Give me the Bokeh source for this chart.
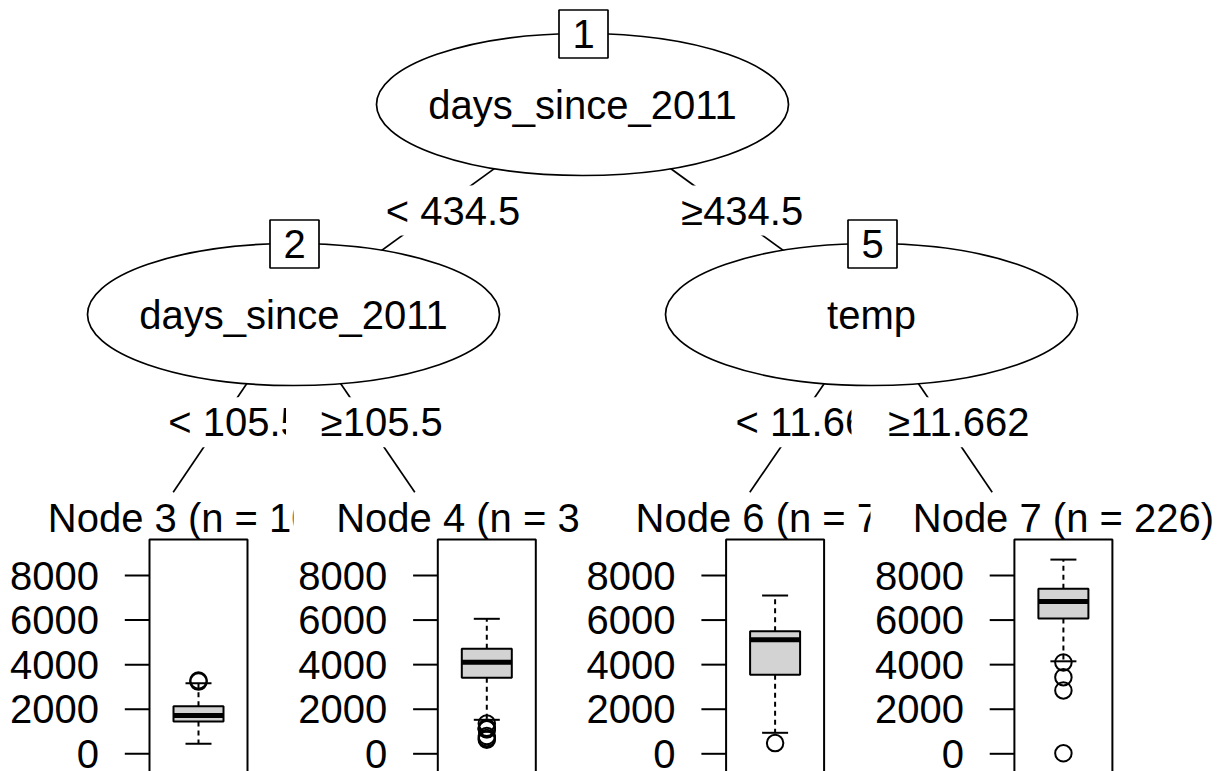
from bokeh.plotting import figure
from bokeh.models import Range1d
from bokeh.core.properties import value
from bokeh.embed import file_html
from bokeh.resources import INLINE

# ---------------- data ----------------
inner_ids = ["1", "2", "5"]
inner_vars = ["days_since_2011", "days_since_2011", "temp"]
edge_labels = ["< 434.5", "\u2265434.5", "< 105.5", "\u2265105.5", "< 11.662", "\u226511.662"]
terminal_ids = [3, 4, 6, 7]
terminal_n = [106, 329, 70, 226]

# boxplot statistics of bike counts in each terminal node
whisk_low = [449, 1525, 942, 4150]
q1 = [1449, 3410, 3544, 6070]
median = [1718, 4110, 5114, 6833]
q3 = [2135, 4711, 5500, 7402]
whisk_high = [3167, 6057, 7102, 8714]
outliers = [[3240, 3290],
            [1360, 1167, 1115, 1096, 795, 705, 627],
            [480],
            [4100, 3437, 2843, 22]]
y_ticks = [0, 2000, 4000, 6000, 8000]
y_tick_labels = ["0", "2000", "4000", "6000", "8000"]

# ---------------- layout (page pixels) ----------------
FONT = value("Liberation Sans")
FS = "40px"
W, H = 1217, 771
node_x = [582, 293, 871]
node_y = [104, 314, 314]
ell_w, ell_h = 412, 142
term_end_x = [172.7, 414.3, 749.3, 991.7]
term_end_y = 491.7
edge_from = [0, 0, 1, 1, 2, 2]
edge_to = [(node_x[1], node_y[1]), (node_x[2], node_y[2]),
           (term_end_x[0], term_end_y), (term_end_x[1], term_end_y),
           (term_end_x[2], term_end_y), (term_end_x[3], term_end_y)]
lab_x = [452.5, 741.7, 235.0, 381.3, 812.0, 958.4]
lab_y = [210, 210, 421.7, 421.7, 421.7, 421.7]
lab_w = [140, 135, 140, 130, 160, 155]
lab_clip = [None, None, 285.5, None, 851.0, None]

panel_c = [198 + 288.3 * i for i in range(4)]
panel_w = 98
panel_top = 539
node_lab_y = 517.5
node_lab_clip = [293.0, 580.0, 870.0, None]

# count scale: 0 -> 753.3 px, 8000 -> 575 px
px0, px8000 = 753.3, 575.0
k = (px0 - px8000) / 8000.0
frame_top, frame_bottom = 0, H

p = figure(width=W, height=H, output_backend="svg", toolbar_location=None,
           x_range=Range1d(0, W), y_range=Range1d(frame_bottom, frame_top),
           x_axis_type=None, y_axis_type=None, min_border=0)
p.outline_line_color = None
p.background_fill_color = "white"
p.border_fill_color = "white"
p.extra_y_ranges = {"cnt": Range1d(start=(px0 - frame_bottom) / k, end=(px0 - frame_top) / k)}

# edges (parent center -> child)
p.segment(x0=[node_x[i] for i in edge_from], y0=[node_y[i] for i in edge_from],
          x1=[e[0] for e in edge_to], y1=[e[1] for e in edge_to],
          line_color="black", line_width=1.7)
# white backgrounds of edge labels
p.rect(x=lab_x, y=lab_y, width=lab_w, height=50, fill_color="white", line_color=None)

# inner nodes
p.ellipse(x=node_x, y=node_y, width=ell_w, height=ell_h, fill_color="white",
          line_color="black", line_width=1.7)
p.text(x=node_x, y=node_y, text=inner_vars, text_font=FONT, text_font_size=FS,
       text_align="center", text_baseline="middle", text_color="black")
id_y = [y - ell_h / 2 + 0.5 for y in node_y]
p.rect(x=[x + 1 for x in node_x], y=id_y, width=49, height=48, fill_color="white",
       line_color="black", line_width=1.7)
p.text(x=[x + 1 for x in node_x], y=id_y, text=inner_ids, text_font=FONT, text_font_size=FS,
       text_align="center", text_baseline="middle", text_color="black")

# edge labels (clipped like the original viewports)
for i in range(len(edge_labels)):
    p.text(x=[lab_x[i]], y=[lab_y[i]], text=[edge_labels[i]], text_font=FONT, text_font_size=FS,
           text_align="center", text_baseline="middle", text_color="black")
    if lab_clip[i] is not None:
        p.quad(left=[lab_clip[i]], right=[lab_clip[i] + 50], top=[lab_y[i] - 26],
               bottom=[lab_y[i] + 26], fill_color="white", line_color=None)

# terminal node labels
for i in range(4):
    p.text(x=[panel_c[i]], y=[node_lab_y], text=["Node %d (n = %d)" % (terminal_ids[i], terminal_n[i])],
           text_font=FONT, text_font_size=FS, text_align="center", text_baseline="middle",
           text_color="black")
    if node_lab_clip[i] is not None:
        p.quad(left=[node_lab_clip[i]], right=[node_lab_clip[i] + 75], top=[494],
               bottom=[546], fill_color="white", line_color=None)

# panels
pl = [c - panel_w / 2 for c in panel_c]
p.quad(left=pl, right=[x + panel_w for x in pl], top=[panel_top] * 4, bottom=[H + 20] * 4,
       fill_color=None, line_color="black", line_width=2)

# y axes of each panel
tx0, tx1, ty, lx, ly, lt = [], [], [], [], [], []
for i in range(4):
    for t, s in zip(y_ticks, y_tick_labels):
        tx0.append(pl[i] - 24.7)
        tx1.append(pl[i])
        ty.append(t)
        lx.append(pl[i] - 50.5)
        ly.append(t)
        lt.append(s)
p.segment(x0=tx0, y0=ty, x1=tx1, y1=ty, line_color="black", line_width=2, y_range_name="cnt")
p.text(x=lx, y=ly, text=lt, text_font=FONT, text_font_size=FS, text_align="right",
       text_baseline="middle", text_color="black", y_range_name="cnt")

# boxplots
p.segment(x0=panel_c, y0=q3, x1=panel_c, y1=whisk_high, line_color="black", line_width=2,
          line_dash="5 4", y_range_name="cnt")
p.segment(x0=panel_c, y0=q1, x1=panel_c, y1=whisk_low, line_color="black", line_width=2,
          line_dash="5 4", y_range_name="cnt")
p.segment(x0=[c - 13 for c in panel_c], y0=whisk_high, x1=[c + 13 for c in panel_c], y1=whisk_high,
          line_color="black", line_width=2, y_range_name="cnt")
p.segment(x0=[c - 13 for c in panel_c], y0=whisk_low, x1=[c + 13 for c in panel_c], y1=whisk_low,
          line_color="black", line_width=2, y_range_name="cnt")
p.quad(left=[c - 25 for c in panel_c], right=[c + 25 for c in panel_c], bottom=q1, top=q3,
       fill_color="#d3d3d3", line_color="black", line_width=2, y_range_name="cnt")
p.segment(x0=[c - 25 for c in panel_c], y0=median, x1=[c + 25 for c in panel_c], y1=median,
          line_color="black", line_width=5, y_range_name="cnt")
ox, oy = [], []
for i, vals in enumerate(outliers):
    for v in vals:
        ox.append(panel_c[i])
        oy.append(v)
p.scatter(x=ox, y=oy, marker="circle", size=16.5, fill_color=None, line_color="black",
          line_width=2, y_range_name="cnt")

open("out.html", "w").write(file_html(p, INLINE))
